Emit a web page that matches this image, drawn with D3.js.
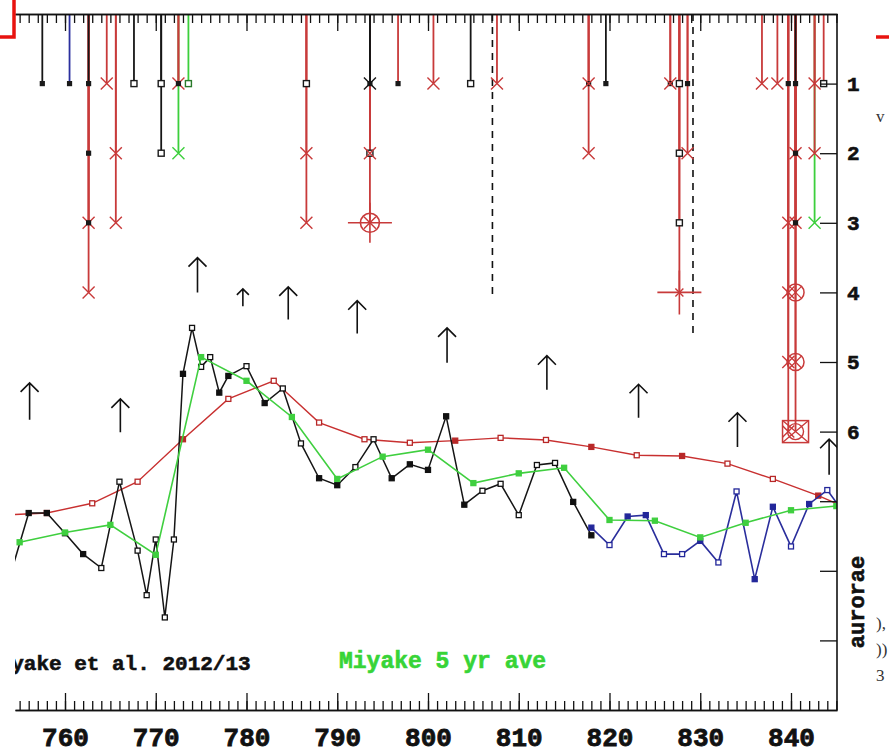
<!DOCTYPE html>
<html>
<head>
<meta charset="utf-8">
<script src="https://cdn.jsdelivr.net/npm/d3@7"></script>
<style>
  html, body { margin: 0; padding: 0; background: #fff; }
  svg { display: block; }
</style>
</head>
<body>
<svg id="chart" width="889" height="753"></svg>
<script>
// ---- axis ticks -------------------------------------------------------
const yearTicks = [760, 770, 780, 790, 800, 810, 820, 830, 840];
const minorYears = d3.range(755, 846);
const levelTicks = [1, 2, 3, 4, 5, 6, 7, 8, 9];
const levelLabels = ["1", "2", "3", "4", "5", "6"];

// ---- annual 14C record (Miyake et al.), in right-axis units ------------
const c14Years  = [754, 756, 758, 760, 762, 764, 766, 768, 769, 770, 771, 772, 773, 774, 775, 776, 777, 778,
                   780, 782, 784, 786, 788, 790, 792, 794, 796, 798, 800, 802, 804, 806, 808, 810, 812, 814, 816, 818];
const c14Values = [8.05, 7.17, 7.17, 7.46, 7.76, 7.96, 6.72, 7.71, 8.35, 7.55, 8.67, 7.55, 5.17, 4.51, 5.07, 4.93, 5.44, 5.20,
                   5.06, 5.59, 5.38, 6.17, 6.67, 6.77, 6.51, 6.11, 6.67, 6.47, 6.55, 5.78, 7.05, 6.85, 6.75, 7.20, 6.48, 6.45, 7.01, 7.49];
const c14Solid  = [1, 1, 1, 1, 1, 0, 0, 0, 0, 0, 0, 0, 1, 0, 0, 0, 1, 1,
                   0, 1, 0, 0, 1, 1, 0, 0, 1, 1, 1, 1, 1, 0, 0, 0, 0, 0, 1, 1];

// ---- later annual record ----------------------------------------------
const lateYears  = [818, 820, 822, 824, 826, 828, 830, 832, 834, 836, 838, 840, 842, 844, 846];
const lateValues = [7.38, 7.63, 7.22, 7.20, 7.76, 7.76, 7.57, 7.88, 6.86, 8.12, 7.08, 7.65, 7.04, 6.84, 7.20];
const lateSolid  = [1, 0, 1, 1, 0, 0, 1, 0, 0, 1, 1, 0, 1, 0, 0];

// ---- Miyake 5 yr average ----------------------------------------------
const aveYears  = [755, 760, 765, 770, 775, 780, 785, 790, 795, 800, 805, 810, 815, 820, 825, 830, 835, 840, 845];
const aveValues = [7.59, 7.45, 7.34, 7.77, 4.93, 5.27, 5.79, 6.68, 6.36, 6.26, 6.74, 6.60, 6.52, 7.27, 7.28, 7.52, 7.31, 7.13, 7.07];

// ---- smoothed calibration curve ---------------------------------------
const calYears  = [753, 758, 763, 768, 773, 778, 783, 788, 793, 798, 803, 808, 813, 818, 823, 828, 833, 838, 843, 848];
const calValues = [7.20, 7.17, 7.03, 6.72, 6.11, 5.53, 5.27, 5.87, 6.11, 6.16, 6.13, 6.09, 6.12, 6.22, 6.34, 6.35, 6.46, 6.68, 6.92, 7.20];
const calSolid  = [0, 1, 0, 0, 1, 0, 0, 0, 0, 0, 1, 0, 0, 1, 0, 1, 0, 0, 1, 0];

// ---- reported sightings: [year, level, source, mark] -------------------
// source: k = black, r = red, g = green, b = blue
// mark: f filled square, o open square, x cross, c ringed star,
//       h crosshair, q ringed cross, b boxed ring
const reports = [
  [757.5, 1, "k", "f"],
  [760.5, 1, "b", "f"],
  [762.6, 4, "r", "x"], [762.6, 3, "r", "x"], [762.6, 3, "r", "f"], [762.6, 2, "r", "f"], [762.6, 1, "k", "f"],
  [764.6, 1, "r", "x"],
  [765.6, 3, "r", "x"], [765.6, 2, "r", "x"],
  [767.6, 1, "k", "o"],
  [770.6, 2, "k", "o"], [770.6, 1, "k", "o"],
  [772.5, 2, "g", "x"], [772.5, 1, "r", "x"], [772.5, 1, "r", "f"],
  [773.6, 1, "g", "o"],
  [786.6, 3, "r", "x"], [786.6, 2, "r", "x"], [786.6, 1, "r", "o"],
  [793.6, 3, "r", "c"], [793.6, 2, "r", "o"], [793.6, 2, "r", "x"], [793.6, 1, "k", "f"], [793.6, 1, "k", "x"],
  [796.7, 1, "r", "f"],
  [800.6, 1, "r", "x"],
  [804.7, 1, "k", "o"],
  [807.6, 1, "r", "x"],
  [817.7, 2, "r", "x"], [817.7, 1, "r", "f"], [817.7, 1, "r", "x"],
  [819.6, 1, "k", "f"],
  [826.7, 1, "r", "f"], [826.7, 1, "r", "x"],
  [827.7, 4, "r", "h"], [827.7, 3, "r", "o"], [827.7, 2, "r", "o"], [827.7, 1, "r", "o"],
  [828.6, 2, "r", "x"], [828.6, 1, "r", "f"],
  [836.8, 1, "r", "x"],
  [838.5, 1, "r", "x"],
  [839.7, 6, "r", "x"], [839.7, 5, "r", "x"], [839.7, 4, "r", "x"], [839.7, 3, "r", "x"], [839.7, 1, "r", "f"],
  [840.5, 6, "r", "b"], [840.5, 5, "r", "q"], [840.5, 4, "r", "q"], [840.5, 3, "r", "x"], [840.5, 3, "r", "f"],
  [840.5, 2, "r", "x"], [840.5, 2, "r", "f"], [840.5, 1, "k", "f"],
  [842.6, 3, "g", "x"], [842.6, 2, "r", "x"], [842.6, 1, "r", "x"],
  [843.6, 1, "r", "o"]
];

// ---- dashed markers: [year, lower level] -------------------------------
const dashYears  = [807.1, 829.2];
const dashLevels = [4.04, 4.61];

// ---- upward arrows: year, tip level, tail level ------------------------
const arrowYears = [756.1, 766.1, 774.6, 779.6, 784.6, 792.2, 802.1, 813.1, 823.2, 834.1, 844.2];
const arrowTips  = [5.30, 5.53, 3.50, 3.95, 3.92, 4.12, 4.51, 4.91, 5.32, 5.73, 6.11];
const arrowTails = [5.83, 6.01, 4.00, 4.20, 4.39, 4.59, 5.01, 5.40, 5.80, 6.22, 6.62];

// =======================================================================
const svg = d3.select("#chart");
const frame = { left: 15, right: 837, top: 14, bottom: 710 };

const x = d3.scaleLinear().domain([760, 840]).range([65, 791]);
const xFull = x.copy().domain([x.invert(frame.left), x.invert(frame.right)]).range([frame.left, frame.right]);
const y = d3.scaleLinear().domain([0, 10]).range([frame.top, frame.bottom]);

const colour = { k: "#161616", r: "#c83a3a", g: "#3ccf3c", b: "#2b2f9e" };
const mono = "'Liberation Mono', 'Courier New', monospace";

svg.append("defs").append("clipPath").attr("id", "plotclip")
  .append("rect")
  .attr("x", frame.left).attr("y", frame.top)
  .attr("width", frame.right - frame.left).attr("height", frame.bottom - frame.top);

const plot = svg.append("g").attr("clip-path", "url(#plotclip)");

// ---- frame axes --------------------------------------------------------
function styleAxis(g) {
  g.selectAll("path.domain").attr("stroke", "#111").attr("stroke-width", 1.6);
  g.selectAll(".tick line").attr("stroke", "#111").attr("stroke-width", 1.3);
}

// top: ticks hang down
svg.append("g").attr("transform", `translate(0,${frame.top})`)
  .call(d3.axisTop(xFull).tickValues(minorYears).tickSizeInner(-9).tickSizeOuter(0).tickFormat(""))
  .call(styleAxis);
svg.append("g").attr("transform", `translate(0,${frame.top})`)
  .call(d3.axisTop(xFull).tickValues(yearTicks).tickSizeInner(-17).tickSizeOuter(0).tickFormat(""))
  .call(styleAxis);

// bottom: ticks point up, labels below
svg.append("g").attr("transform", `translate(0,${frame.bottom})`)
  .call(d3.axisBottom(xFull).tickValues(minorYears).tickSizeInner(-9).tickSizeOuter(0).tickFormat(""))
  .call(styleAxis);
const bottomAxis = svg.append("g").attr("transform", `translate(0,${frame.bottom})`)
  .call(d3.axisBottom(xFull).tickValues(yearTicks).tickSizeInner(-17).tickSizeOuter(0).tickPadding(36).tickFormat(d3.format("d")))
  .call(styleAxis);
bottomAxis.selectAll(".tick text")
  .attr("dy", 0)
  .style("font-family", mono).style("font-size", "26px").style("font-weight", "bold")
  .attr("fill", "#111").attr("stroke", "#111").attr("stroke-width", 0.8);

// right: level ticks point left
const rightAxis = svg.append("g").attr("transform", `translate(${frame.right},0)`)
  .call(d3.axisRight(y).tickValues(levelTicks).tickSizeInner(-17).tickSizeOuter(0).tickPadding(10)
    .tickFormat(d => levelLabels[d - 1] || ""))
  .call(styleAxis);
rightAxis.selectAll(".tick text")
  .style("font-family", mono).style("font-size", "21px").style("font-weight", "bold")
  .attr("fill", "#111").attr("stroke", "#111").attr("stroke-width", 0.6);
// domain path of the right axis covers the full frame height
rightAxis.select("path.domain").attr("d", `M0,${frame.top}V${frame.bottom}`);

// ---- dashed markers ----------------------------------------------------
dashYears.forEach((yr, i) => {
  plot.append("line")
    .attr("x1", x(yr)).attr("x2", x(yr))
    .attr("y1", y(0)).attr("y2", y(dashLevels[i]))
    .attr("stroke", "#111").attr("stroke-width", 1.6).attr("stroke-dasharray", "7,6");
});

// ---- sighting drop lines and marks -------------------------------------
const drops = plot.append("g");
const ordered = reports.map((r, i) => ({ yr: r[0], lvl: r[1], src: r[2], mk: r[3], i }))
  .sort((a, b) => (b.lvl - a.lvl) || (a.i - b.i));

ordered.forEach(d => {
  drops.append("line")
    .attr("x1", x(d.yr)).attr("x2", x(d.yr))
    .attr("y1", y(0)).attr("y2", y(d.lvl))
    .attr("stroke", colour[d.src]).attr("stroke-width", 1.8);
});

function mark(g, cx, cy, mk, col) {
  const red = colour.r;
  if (mk === "f") {
    g.append("rect").attr("x", cx - 2.6).attr("y", cy - 2.6).attr("width", 5.2).attr("height", 5.2)
      .attr("fill", "#1a1a1a");
  } else if (mk === "o") {
    g.append("rect").attr("x", cx - 3).attr("y", cy - 3).attr("width", 6).attr("height", 6)
      .attr("fill", "#fff").attr("stroke", col === colour.g ? "#2a7a2a" : "#1a1a1a").attr("stroke-width", 1.4);
  } else if (mk === "x") {
    g.append("path").attr("d", `M${cx - 6},${cy - 6}L${cx + 6},${cy + 6}M${cx - 6},${cy + 6}L${cx + 6},${cy - 6}`)
      .attr("stroke", col).attr("stroke-width", 1.4).attr("fill", "none");
  } else if (mk === "c") {
    g.append("path").attr("d", `M${cx - 22},${cy}H${cx + 22}M${cx},${cy - 20}V${cy + 20}`)
      .attr("stroke", red).attr("stroke-width", 1.6);
    g.append("circle").attr("cx", cx).attr("cy", cy).attr("r", 9.5)
      .attr("fill", "none").attr("stroke", red).attr("stroke-width", 1.6);
    g.append("path").attr("d", `M${cx - 6},${cy - 6}L${cx + 6},${cy + 6}M${cx - 6},${cy + 6}L${cx + 6},${cy - 6}`)
      .attr("stroke", red).attr("stroke-width", 1.4);
  } else if (mk === "h") {
    g.append("path").attr("d", `M${cx - 22},${cy}H${cx + 22}M${cx},${cy - 22}V${cy + 22}`)
      .attr("stroke", red).attr("stroke-width", 1.6);
    g.append("path").attr("d", `M${cx - 4},${cy - 4}L${cx + 4},${cy + 4}M${cx - 4},${cy + 4}L${cx + 4},${cy - 4}`)
      .attr("stroke", red).attr("stroke-width", 1.4);
  } else if (mk === "q") {
    g.append("circle").attr("cx", cx).attr("cy", cy).attr("r", 8.5)
      .attr("fill", "none").attr("stroke", red).attr("stroke-width", 1.5);
    g.append("path").attr("d", `M${cx - 6},${cy - 6}L${cx + 6},${cy + 6}M${cx - 6},${cy + 6}L${cx + 6},${cy - 6}`)
      .attr("stroke", red).attr("stroke-width", 1.3);
  } else if (mk === "b") {
    g.append("rect").attr("x", cx - 13).attr("y", cy - 11).attr("width", 26).attr("height", 22)
      .attr("fill", "none").attr("stroke", red).attr("stroke-width", 1.5);
    g.append("circle").attr("cx", cx).attr("cy", cy).attr("r", 8)
      .attr("fill", "none").attr("stroke", red).attr("stroke-width", 1.4);
    g.append("path").attr("d", `M${cx - 13},${cy - 11}L${cx + 13},${cy + 11}M${cx - 13},${cy + 11}L${cx + 13},${cy - 11}`)
      .attr("stroke", red).attr("stroke-width", 1.3);
  }
}

reports.forEach(r => mark(drops, x(r[0]), y(r[1]), r[3], colour[r[2]]));

// ---- arrows ------------------------------------------------------------
arrowYears.forEach((yr, i) => {
  const ax = x(yr), tip = y(arrowTips[i]), tail = y(arrowTails[i]);
  const h = (tail - tip) < 25 ? 6 : 9;
  plot.append("path")
    .attr("d", `M${ax},${tail}V${tip}M${ax - h},${tip + h}L${ax},${tip}L${ax + h},${tip + h}`)
    .attr("fill", "none").attr("stroke", "#111").attr("stroke-width", 1.6);
});

// ---- time series -------------------------------------------------------
function series(years, values, solid, col, markStroke, lw, size) {
  const pts = years.map((yr, i) => ({ yr, v: values[i], s: solid ? solid[i] : 1 }));
  const g = plot.append("g");
  g.append("path").datum(pts)
    .attr("d", d3.line().x(d => x(d.yr)).y(d => y(d.v)))
    .attr("fill", "none").attr("stroke", col).attr("stroke-width", lw);
  g.selectAll("rect").data(pts).join("rect")
    .attr("x", d => x(d.yr) - size / 2).attr("y", d => y(d.v) - size / 2)
    .attr("width", size).attr("height", size)
    .attr("fill", d => d.s ? markStroke : "#fff")
    .attr("stroke", markStroke).attr("stroke-width", 1.3);
}

series(calYears, calValues, calSolid, "#c83030", "#b82828", 1.4, 5);
series(c14Years, c14Values, c14Solid, "#151515", "#111", 1.5, 5);
series(lateYears, lateValues, lateSolid, "#2a2e9c", "#23279a", 1.6, 5);
series(aveYears, aveValues, null, "#3fcf3f", "#3fcf3f", 1.6, 5);

// ---- captions ----------------------------------------------------------
svg.append("text").attr("clip-path", "url(#plotclip)")
  .attr("x", -14).attr("y", 670)
  .style("font-family", mono).style("font-size", "21px").style("font-weight", "bold")
  .attr("fill", "#111").attr("stroke", "#111").attr("stroke-width", 0.6)
  .text("Miyake et al. 2012/13");

svg.append("text")
  .attr("x", 339).attr("y", 668)
  .style("font-family", mono).style("font-size", "23px").style("font-weight", "bold")
  .attr("fill", "#37d437").attr("stroke", "#37d437").attr("stroke-width", 0.6)
  .text("Miyake 5 yr ave");

svg.append("text")
  .attr("transform", "translate(864,602) rotate(-90)")
  .attr("text-anchor", "middle")
  .style("font-family", mono).style("font-size", "22px").style("font-weight", "bold")
  .attr("fill", "#111").attr("stroke", "#111").attr("stroke-width", 0.6)
  .text("aurorae");

// neighbouring page text at the right margin
const side = [["v", 122], ["),", 629], ["))", 655], ["3", 681]];
side.forEach(([t, by]) => {
  svg.append("text").attr("x", 876).attr("y", by)
    .style("font-family", "'Liberation Serif', serif").style("font-size", "17px")
    .attr("fill", "#333").text(t);
});

// red selection brackets in the margins
svg.append("path").attr("d", "M0,37H14V0").attr("fill", "none").attr("stroke", "#e8130f").attr("stroke-width", 3.5);
svg.append("path").attr("d", "M876,37H889").attr("fill", "none").attr("stroke", "#e8130f").attr("stroke-width", 3.5);
</script>
</body>
</html>
